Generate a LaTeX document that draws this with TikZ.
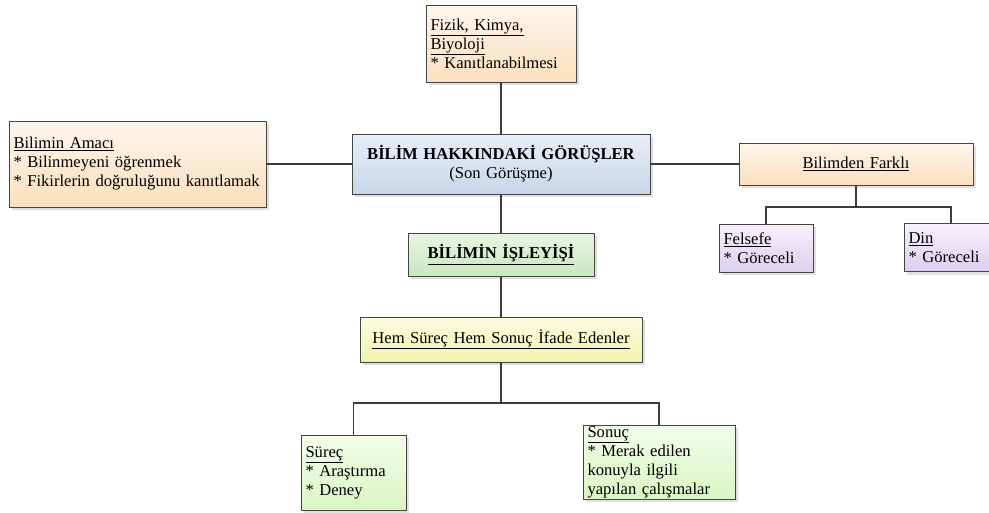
\documentclass[tikz,border=0pt]{standalone}
\usepackage{fontspec}
\setmainfont{Liberation Serif}
\usetikzlibrary{shadows}

\definecolor{peachT}{HTML}{FEF6EC}\definecolor{peachB}{HTML}{FBDFBD}
\definecolor{blueT}{HTML}{E8EEF7}\definecolor{blueB}{HTML}{C8D6EA}
\definecolor{greenT}{HTML}{E8F5E2}\definecolor{greenB}{HTML}{C8E8BC}
\definecolor{yelT}{HTML}{FCFCE0}\definecolor{yelB}{HTML}{F0F4AC}
\definecolor{lavT}{HTML}{F5F1FB}\definecolor{lavB}{HTML}{DCCFF0}
\definecolor{lgrT}{HTML}{F3FDEA}\definecolor{lgrB}{HTML}{D9F6C3}
\definecolor{edge}{HTML}{454545}
\definecolor{wire}{HTML}{3C3C3C}

% a starred list line inside a box, kept on one line
\newcommand{\itm}[1]{\\\mbox{* #1}}

\begin{document}
\begin{tikzpicture}[x=1pt,y=-1pt,
  font=\fontsize{16.6}{19}\selectfont,
  card/.style={draw=edge, line width=0.9pt, inner xsep=4.5pt, inner ysep=0pt,
    drop shadow={shadow xshift=3pt, shadow yshift=-3pt, fill=black!40, opacity=0.3}},
  leftcard/.style 2 args={card, align=left, text width=#1pt-9pt, minimum height=#2pt},
  midcard/.style 2 args={card, align=center, text width=#1pt-9pt, minimum height=#2pt},
  peach/.style={top color=peachT, bottom color=peachB},
  blue/.style={top color=blueT, bottom color=blueB},
  green/.style={top color=greenT, bottom color=greenB},
  yel/.style={top color=yelT, bottom color=yelB},
  lav/.style={top color=lavT, bottom color=lavB},
  lgr/.style={top color=lgrT, bottom color=lgrB},
  link/.style={draw=wire, line width=1.8pt}]

\clip (0,0) rectangle (989,512);
\fill[white] (0,0) rectangle (989,512);

% junction points of the branching links
\coordinate (fbus) at (856,207);
\coordinate (sbus) at (501,403);

% boxes
\node[leftcard={150}{77}, peach] (fizik) at (501,43.5)
  {\underline{Fizik, Kimya,}\\\underline{Biyoloji}\itm{Kanıtlanabilmesi}};
\node[leftcard={257}{86}, peach] (amac) at (137.5,164)
  {\underline{Bilimin Amacı}\itm{Bilinmeyeni öğrenmek}\itm{Fikirlerin doğruluğunu kanıtlamak}};
\node[midcard={298}{60}, blue] (main) at (501,164)
  {\textbf{BİLİM HAKKINDAKİ GÖRÜŞLER}\\(Son Görüşme)};
\node[midcard={234}{42}, peach] (farkli) at (856,164)
  {\underline{Bilimden Farklı}};
\node[leftcard={94}{48}, lav] (felsefe) at (766,248)
  {\underline{Felsefe}\itm{Göreceli}};
\node[leftcard={94}{48}, lav] (din) at (951,247.5)
  {\underline{Din}\itm{Göreceli}};
\node[midcard={186}{43}, green] (isleyis) at (501,254.5)
  {\underline{\textbf{BİLİMİN İŞLEYİŞİ}}};
\node[midcard={282}{45}, yel] (hem) at (501,339.5)
  {\underline{Hem Süreç Hem Sonuç İfade Edenler}};
\node[leftcard={105}{75}, lgr] (surec) at (353.5,472.5)
  {\underline{Süreç}\itm{Araştırma}\itm{Deney}};
\node[leftcard={152}{74}, lgr] (sonuc) at (659,462)
  {\underline{Sonuç}\itm{Merak edilen}\\konuyla ilgili\\yapılan çalışmalar};

% links between boxes
\draw[link] (fizik.south) -- (main.north);
\draw[link] (amac.east) -- (main.west);
\draw[link] (main.east) -- (farkli.west);
\draw[link] (main.south) -- (isleyis.north);
\draw[link] (isleyis.south) -- (hem.north);
\draw[link] (farkli.south) -- (fbus);
\draw[link] (fbus) -| (felsefe.north);
\draw[link] (fbus) -| (din.north);
\draw[link] (hem.south) -- (sbus);
\draw[link] (sbus) -| (surec.north);
\draw[link] (sbus) -| (sonuc.north);
\end{tikzpicture}
\end{document}
